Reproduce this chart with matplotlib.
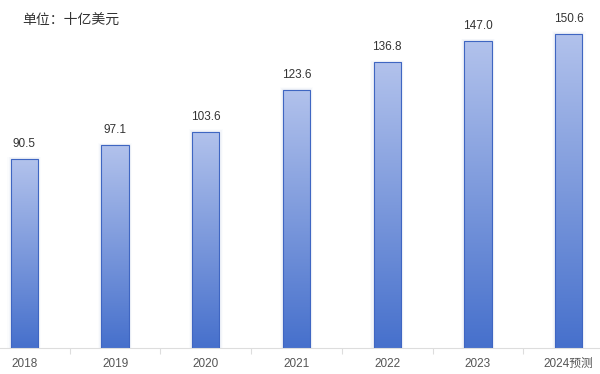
import matplotlib
matplotlib.use("Agg")
import matplotlib.pyplot as plt
import numpy as np
from matplotlib.colors import LinearSegmentedColormap
from matplotlib.patches import Rectangle

plt.rcParams['font.family'] = ['Liberation Sans', 'Noto Sans CJK SC', 'DejaVu Sans']

categories = ["2018", "2019", "2020", "2021", "2022", "2023", "2024预测"]
values = [90.5, 97.1, 103.6, 123.6, 136.8, 147.0, 150.6]
unit_label = "单位：十亿美元"

W, H = 600, 374
fig = plt.figure(figsize=(W / 100, H / 100), dpi=100)
# axes extends beyond figure edges (cropped chart)
left_px, right_px = -21, 614
bottom_px, top_px = 348, 14
ax = fig.add_axes([left_px / W, 1 - bottom_px / H, (right_px - left_px) / W, (bottom_px - top_px) / H])

cmap = LinearSegmentedColormap.from_list("g", ["#4670cc", "#b2c2ec"])
grad = np.linspace(0, 1, 256).reshape(-1, 1)
bw = 0.30
for i, v in enumerate(values):
    # soft shadow
    for k, a in enumerate([0.05, 0.035, 0.02]):
        d = 0.012 * (k + 1)
        ax.add_patch(Rectangle((i - bw / 2 - d, 0), bw + 2 * d, v + 0.4 * (k + 1),
                               facecolor="#5070b0", edgecolor="none", alpha=a, zorder=1))
    im = ax.imshow(grad, extent=(i - bw / 2, i + bw / 2, 0, v), origin="lower",
                   cmap=cmap, aspect="auto", zorder=2)
    rect = Rectangle((i - bw / 2, 0), bw, v, facecolor="none", edgecolor="#3f66c2",
                     linewidth=0.8, zorder=3)
    ax.add_patch(rect)
    im.set_clip_path(rect)
    ax.text(i, v + 4.3, f"{v:.1f}", ha="center", va="bottom", fontsize=8.5, color="#333333")

ax.set_xlim(-0.5, len(categories) - 0.5)
ax.set_ylim(0, 160)
for s in ["top", "right", "left"]:
    ax.spines[s].set_visible(False)
ax.spines["bottom"].set_color("#dddddd")
ax.spines["bottom"].set_linewidth(0.8)
ax.set_yticks([])
ax.set_xticks(range(len(categories)))
ax.set_xticklabels(categories, fontsize=8.5, color="#555555")
ax.tick_params(axis="x", length=0, pad=7)
ax.set_xticks(np.arange(-0.5, len(categories), 1), minor=True)
ax.tick_params(axis="x", which="minor", length=4, color="#dddddd", width=0.8)
ax.patch.set_alpha(0)

fig.text(22 / W, 1 - 20 / H, unit_label, fontsize=10, color="#333333", va="center", ha="left",
         family=['Noto Sans CJK SC'])

fig.savefig("out.png", dpi=100)
